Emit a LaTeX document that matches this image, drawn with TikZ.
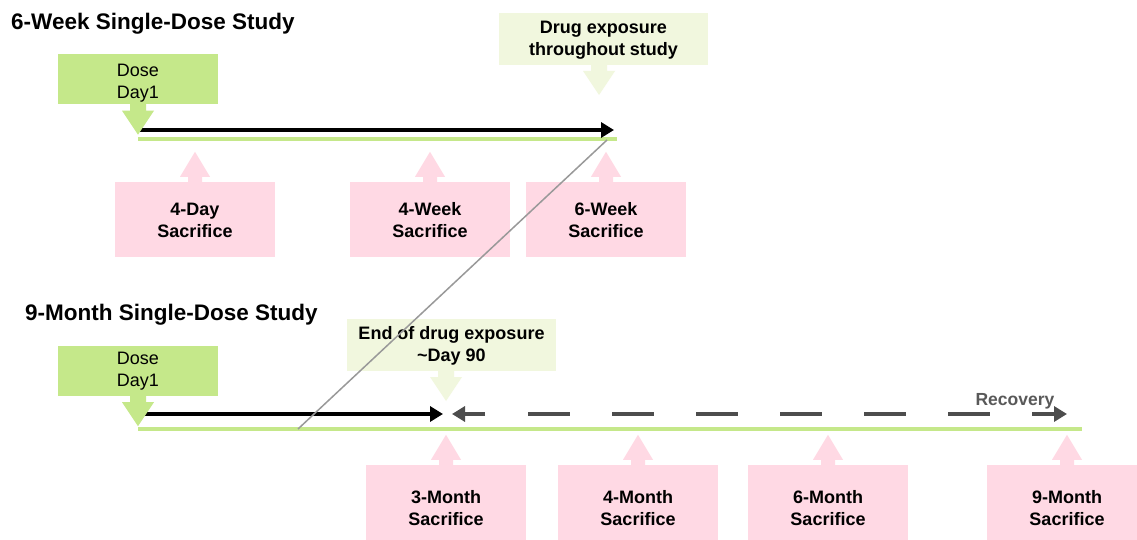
\documentclass[tikz,border=0pt]{standalone}
\usepackage{fontspec}
\setmainfont{Liberation Sans}
\usetikzlibrary{arrows.meta}
\definecolor{gc}{HTML}{C5E88A}
\definecolor{pc}{HTML}{FFD9E4}
\definecolor{lc}{HTML}{F1F7DE}
\definecolor{dg}{HTML}{4D4D4D}
\definecolor{rg}{HTML}{595959}
\begin{document}
\begin{tikzpicture}[x=1pt,y=-1pt,
  sac/.style={fill=pc, minimum width=160pt, minimum height=75pt, inner sep=0pt},
  sacb/.style={sac, minimum height=86pt},
  dosebox/.style={fill=gc, minimum width=160pt, minimum height=50pt, inner sep=0pt},
  notebox/.style={fill=lc, minimum width=209pt, minimum height=52pt, inner sep=0pt},
  btxt/.style={align=center, font=\fontsize{18}{22}\selectfont\bfseries, inner sep=0pt},
  rtxt/.style={align=center, font=\fontsize{18}{22}\selectfont, inner sep=0pt},
  ttl/.style={font=\fontsize{22.5}{27}\selectfont\bfseries, anchor=base west, inner sep=0pt},
  gline/.style={draw=gc, line width=4pt},
  barrow/.style={draw=black, line width=4pt, -{Triangle[length=13pt,width=15pt]}},
  darrow/.style={draw=dg, line width=4pt, -{Triangle[length=13pt,width=15pt]}},
  dline/.style={draw=dg, line width=4pt, dash pattern=on 42pt off 42pt},
  diag/.style={draw=gray!80, line width=1.5pt},
  downarr/.pic={\fill (-8,-1) -- (-8,6) -- (-16,6) -- (0,30) -- (16,6) -- (8,6) -- (8,-1) -- cycle;},
  uparr/.pic={\fill (-7,1) -- (-7,-5) -- (-15,-5) -- (0,-30) -- (15,-5) -- (7,-5) -- (7,1) -- cycle;}
]
\clip (0,0) rectangle (1137,540);
\fill[white] (0,0) rectangle (1137,540);

% titles
\node[ttl] (t1) at (11,30) {6-Week Single-Dose Study};
\node[ttl] (t2) at (25,320) {9-Month Single-Dose Study};

% ---- 6-week study ----
\coordinate (g1a) at (138,139);
\coordinate (g1b) at (617,139);
\draw[gline] (g1a) -- (g1b);
\coordinate (b1a) at (140,130);
\coordinate (b1b) at (614,130);
\draw[barrow] (b1a) -- (b1b);

\node[dosebox] (d1) at (138,79.5) {};
\node[rtxt] (d1t) at (138,83.5) {Dose\\Day1};
\pic[gc] at (d1.south) {downarr};

\node[notebox] (n1) at (603.5,39) {};
\node[btxt] (n1t) at (603.5,40) {Drug exposure\\throughout study};
\pic[lc] at (599,65) {downarr};

\node[sac] (s1) at (195,219.5) {};
\node[sac] (s2) at (430,219.5) {};
\node[sac] (s3) at (606,219.5) {};
\node[btxt] (s1t) at (195,220.5) {4-Day\\Sacrifice};
\node[btxt] (s2t) at (430,220.5) {4-Week\\Sacrifice};
\node[btxt] (s3t) at (606,220.5) {6-Week\\Sacrifice};
\pic[pc] at (s1.north) {uparr};
\pic[pc] at (s2.north) {uparr};
\pic[pc] at (s3.north) {uparr};

% ---- 9-month study ----
\coordinate (g2a) at (138,429);
\coordinate (g2b) at (1082,429);
\draw[gline] (g2a) -- (g2b);
\coordinate (b2a) at (140,414);
\coordinate (b2b) at (443,414);
\draw[barrow] (b2a) -- (b2b);

\coordinate (r0) at (485,414);
\coordinate (r1) at (452,414);
\draw[darrow] (r0) -- (r1);
\coordinate (r2) at (528,414);
\coordinate (r3) at (990,414);
\draw[dline] (r2) -- (r3);
\coordinate (r4) at (1032,414);
\coordinate (r5) at (1067,414);
\draw[darrow] (r4) -- (r5);
\node[font=\fontsize{17.5}{21}\selectfont\bfseries, text=rg, inner sep=0pt] (rec) at (1015,401) {Recovery};

\node[dosebox] (d2) at (138,371) {};
\node[rtxt] (d2t) at (138,371.5) {Dose\\Day1};
\pic[gc] at (d2.south) {downarr};

\node[notebox] (n2) at (451.5,345) {};
\node[btxt] (n2t) at (451.5,346) {End of drug exposure\\\textasciitilde Day 90};
\pic[lc] at (446,371) {downarr};

\node[sacb] (s4) at (446,508) {};
\node[sacb] (s5) at (638,508) {};
\node[sacb] (s6) at (828,508) {};
\node[sacb] (s7) at (1067,508) {};
\node[btxt] (s4t) at (446,508.5) {3-Month\\Sacrifice};
\node[btxt] (s5t) at (638,508.5) {4-Month\\Sacrifice};
\node[btxt] (s6t) at (828,508.5) {6-Month\\Sacrifice};
\node[btxt] (s7t) at (1067,508.5) {9-Month\\Sacrifice};
\pic[pc] at (s4.north) {uparr};
\pic[pc] at (s5.north) {uparr};
\pic[pc] at (s6.north) {uparr};
\pic[pc] at (s7.north) {uparr};

% diagonal connector
\coordinate (x1) at (607,140);
\coordinate (x2) at (298,429);
\draw[diag] (x1) -- (x2);
\end{tikzpicture}
\end{document}
